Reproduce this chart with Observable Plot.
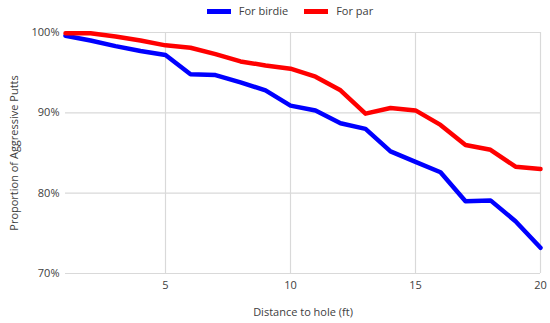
<!DOCTYPE html>
<html><head><meta charset="utf-8">
<script src="https://cdn.jsdelivr.net/npm/d3@7"></script>
<script src="https://cdn.jsdelivr.net/npm/@observablehq/plot@0.6"></script>
<style>
body{margin:0;background:#fff;font-family:"Open Sans",sans-serif;}
#wrap{position:relative;width:550px;height:323px;}
#legend{height:20px;display:flex;justify-content:center;align-items:center;gap:16px;font-size:11px;color:#404040;padding-left:30px;box-sizing:border-box;}
.sw{display:inline-block;width:24px;height:5px;margin-right:8px;vertical-align:middle;}
</style></head>
<body><div id="wrap"><div id="legend"></div><div id="chart"></div></div>
<script>
const distance = [1,2,3,4,5,6,7,8,9,10,11,12,13,14,15,16,17,18,19,20];
const forBirdie = [99.6,99.0,98.3,97.7,97.2,94.8,94.7,93.8,92.8,90.9,90.3,88.7,88.0,85.2,83.9,82.6,79.0,79.1,76.5,73.2];
const forPar = [99.9,99.9,99.5,99.0,98.4,98.1,97.3,96.4,95.9,95.5,94.5,92.8,89.9,90.6,90.3,88.5,86.0,85.4,83.3,83.0];
const seriesNames = ["For birdie","For par"];
const seriesColors = ["#0000ff","#ff0000"];
const xTicks = [5,10,15,20];
const yTicks = [70,80,90,100];

const data = [];
distance.forEach((d,i)=>{
  data.push({x:d,y:forBirdie[i],s:seriesNames[0]});
  data.push({x:d,y:forPar[i],s:seriesNames[1]});
});

const leg = document.getElementById("legend");
seriesNames.forEach((n,i)=>{
  const s=document.createElement("span");
  s.innerHTML=`<span class="sw" style="background:${seriesColors[i]}"></span>${n}`;
  leg.appendChild(s);
});

const chart = Plot.plot({
  width:550, height:303,
  marginTop:12, marginBottom:50, marginLeft:65, marginRight:10,
  style:{fontFamily:"Open Sans, sans-serif", fontSize:"11px", color:"#595959"},
  x:{domain:[1,20], ticks:xTicks, tickSize:0, tickPadding:8, label:"Distance to hole (ft)", labelAnchor:"center", labelArrow:"none", labelOffset:42},
  y:{domain:[70,100], ticks:yTicks, tickSize:0, tickPadding:6, tickFormat:d=>d+"%", label:"Proportion of Aggressive Putts", labelAnchor:"center", labelArrow:"none", labelOffset:55},
  color:{domain:seriesNames, range:seriesColors},
  marks:[
    Plot.gridY(yTicks,{stroke:"#d9d9d9", strokeOpacity:1, strokeWidth:1.2}),
    Plot.gridX(xTicks,{stroke:"#d9d9d9", strokeOpacity:1, strokeWidth:1.2}),
    Plot.line(data,{x:"x", y:"y", z:"s", stroke:"s", strokeWidth:4.5, strokeLinejoin:"round"}),
    Plot.axisX({ticks:xTicks, tickSize:0, tickPadding:8, label:"Distance to hole (ft)", labelAnchor:"center", labelArrow:"none", labelOffset:42, fill:"#404040"}),
    Plot.axisY({ticks:yTicks, tickSize:0, tickPadding:6, tickFormat:d=>d+"%", label:"Proportion of Aggressive Putts", labelAnchor:"center", labelArrow:"none", labelOffset:55, fill:"#404040"})
  ]
});
document.getElementById("chart").appendChild(chart);
</script></body></html>
